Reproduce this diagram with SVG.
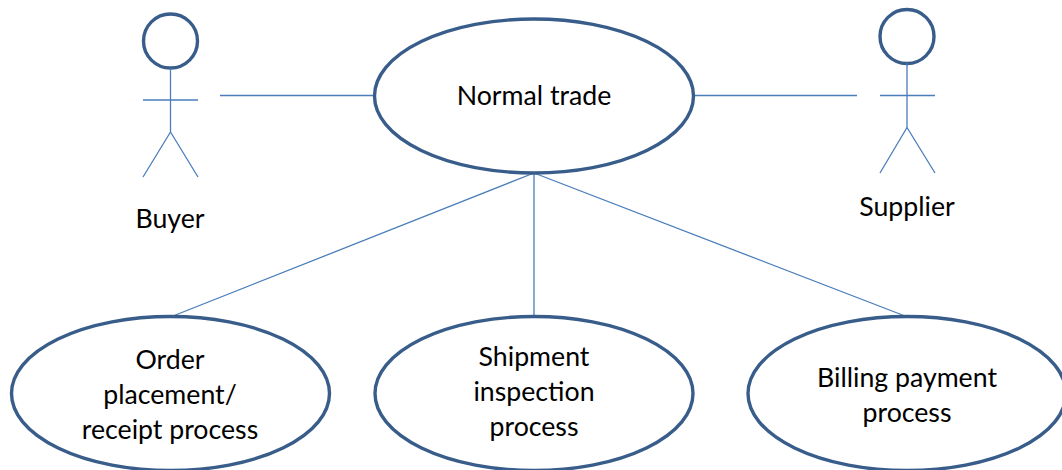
<svg xmlns="http://www.w3.org/2000/svg" width="1062" height="470" viewBox="0 0 1062 470">
<style>
.thick{fill:#fff;stroke:#385d8a;stroke-width:3.4}
.thin{fill:none;stroke:#4a7ebb;stroke-width:1.3}
text{font-family:"Lato","Liberation Sans",sans-serif;font-size:26.7px;fill:#000;text-anchor:middle}
</style>
<rect width="1062" height="470" fill="#fff"/>
<g id="connectors">
<path class="thin" d="M220 95.500H375M694 95.500H857M534 173L173 316M534 173V316M534 173L905 316"/>
</g>
<g id="buyer">
<circle class="thick" cx="170.500" cy="41" r="27"/>
<path class="thin" d="M170.500 68V132M143 100H198M170.500 132L143 177M170.500 132L198 177"/>
<text x="170" y="228">Buyer</text>
</g>
<g id="supplier">
<circle class="thick" cx="907" cy="36.500" r="27"/>
<path class="thin" d="M907 63V127.500M880 95.500H935M907 127.500L880 173M907 127.500L935 173"/>
<text x="907" y="216">Supplier</text>
</g>
<g id="normal-trade">
<ellipse class="thick" cx="534" cy="96" rx="159.500" ry="77"/>
<text x="534" y="105">Normal trade</text>
</g>
<g id="order">
<ellipse class="thick" cx="170.500" cy="393.500" rx="159" ry="77"/>
<text x="170" y="369">Order</text>
<text x="170" y="404">placement/</text>
<text x="170" y="439">receipt process</text>
</g>
<g id="shipment">
<ellipse class="thick" cx="534" cy="393.500" rx="159" ry="77"/>
<text x="534" y="366">Shipment</text>
<text x="534" y="401">inspection</text>
<text x="534" y="436">process</text>
</g>
<g id="billing">
<ellipse class="thick" cx="907" cy="393.500" rx="159" ry="77"/>
<text x="907" y="387">Billing payment</text>
<text x="907" y="422">process</text>
</g>
</svg>
